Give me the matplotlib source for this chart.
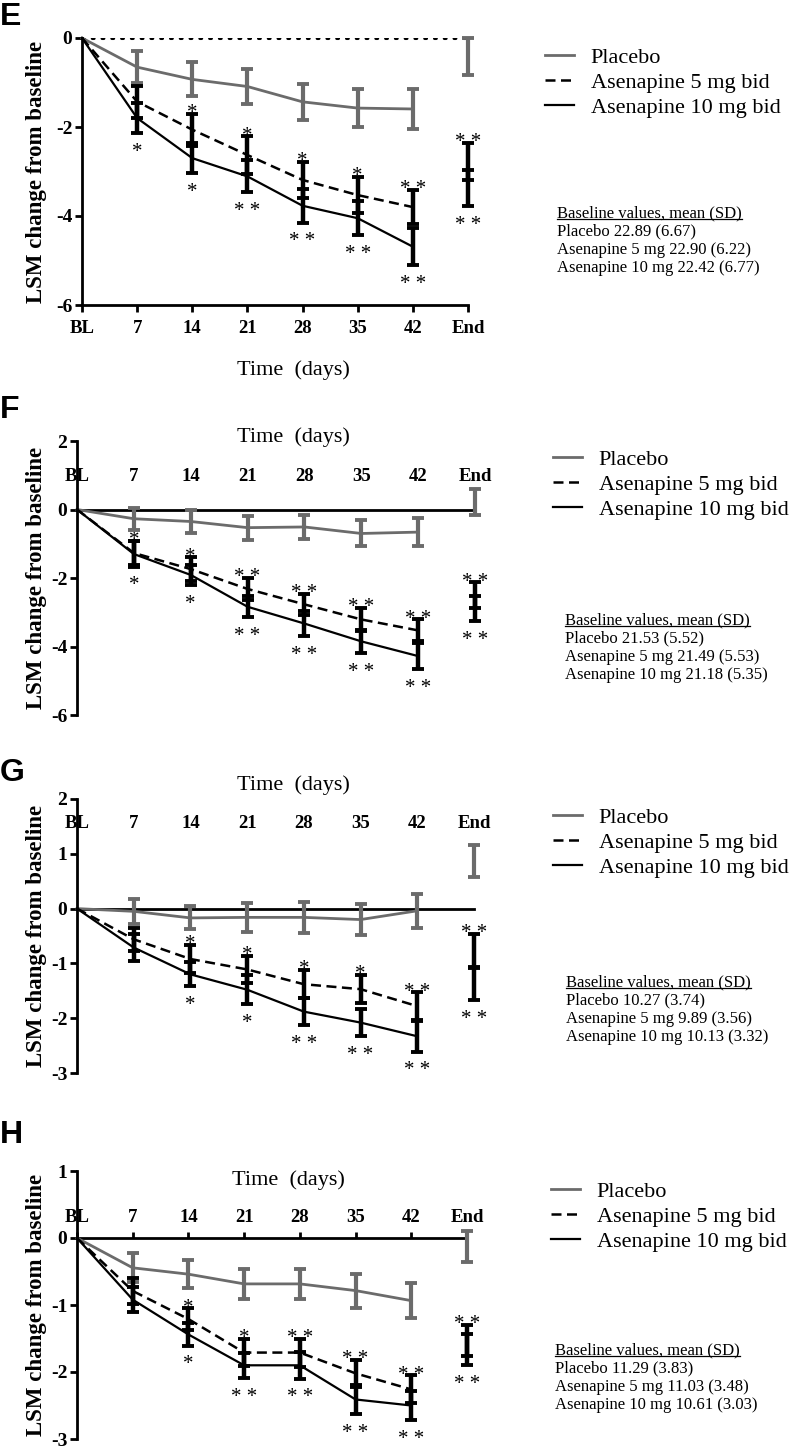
import matplotlib
matplotlib.use("Agg")
import matplotlib.pyplot as plt
from matplotlib.lines import Line2D
import numpy as np

plt.rcParams["font.family"] = ["Liberation Serif", "DejaVu Serif"]
plt.rcParams["axes.unicode_minus"] = False

FIG_W, FIG_H = 793, 1447
GRAY = "#6b6b6b"
BLACK = "#000000"
SERIF = "Liberation Serif"

TIMEPOINTS = ["BL", "7", "14", "21", "28", "35", "42", "End"]
LEGEND_LABELS = ["Placebo", "Asenapine 5 mg bid", "Asenapine 10 mg bid"]
BASELINE_TITLE = "Baseline values, mean (SD)"

# panel E
E_PLACEBO_MEAN = [0, -0.655, -0.93, -1.09, -1.435, -1.575, -1.595, -0.42]
E_PLACEBO_SE = [0, 0.355, 0.38, 0.39, 0.405, 0.425, 0.445, 0.42]
E_ASE5_MEAN = [0, -1.43, -2.06, -2.63, -3.19, -3.53, -3.80, -2.77]
E_ASE5_SE = [0, 0.36, 0.36, 0.42, 0.40, 0.40, 0.39, 0.42]
E_ASE10_MEAN = [0, -1.80, -2.70, -3.11, -3.77, -4.05, -4.69, -3.37]
E_ASE10_SE = [0, 0.34, 0.34, 0.36, 0.38, 0.38, 0.41, 0.41]
E_STARS_TOP = ["", "", "*", "*", "*", "*", "* *", "* *"]
E_STARS_BOTTOM = ["", "*", "*", "* *", "* *", "* *", "* *", "* *"]
E_YTICKS = [0, -2, -4, -6]
E_BASELINE = ["Placebo 22.89 (6.67)", "Asenapine 5 mg 22.90 (6.22)",
              "Asenapine 10 mg 22.42 (6.77)"]

# panel F
F_PLACEBO_MEAN = [0, -0.27, -0.35, -0.53, -0.51, -0.70, -0.66, 0.23]
F_PLACEBO_SE = [0, 0.32, 0.33, 0.35, 0.36, 0.38, 0.41, 0.38]
F_ASE5_MEAN = [0, -1.27, -1.74, -2.32, -2.77, -3.21, -3.53, -2.51]
F_ASE5_SE = [0, 0.36, 0.34, 0.33, 0.30, 0.34, 0.32, 0.38]
F_ASE10_MEAN = [0, -1.30, -1.91, -2.84, -3.33, -3.85, -4.28, -2.90]
F_ASE10_SE = [0, 0.37, 0.30, 0.30, 0.37, 0.34, 0.38, 0.36]
F_STARS_TOP = ["", "*", "*", "* *", "* *", "* *", "* *", "* *"]
F_STARS_BOTTOM = ["", "*", "*", "* *", "* *", "* *", "* *", "* *"]
F_YTICKS = [2, 0, -2, -4, -6]
F_BASELINE = ["Placebo 21.53 (5.52)", "Asenapine 5 mg 21.49 (5.53)",
              "Asenapine 10 mg 21.18 (5.35)"]

# panel G
G_PLACEBO_MEAN = [0, -0.05, -0.17, -0.16, -0.16, -0.20, -0.04, 0.87]
G_PLACEBO_SE = [0, 0.23, 0.21, 0.26, 0.28, 0.29, 0.31, 0.29]
G_ASE5_MEAN = [0, -0.56, -0.92, -1.11, -1.38, -1.47, -1.78, -0.77]
G_ASE5_SE = [0, 0.21, 0.25, 0.25, 0.26, 0.26, 0.25, 0.31]
G_ASE10_MEAN = [0, -0.71, -1.20, -1.48, -1.88, -2.08, -2.33, -1.37]
G_ASE10_SE = [0, 0.24, 0.22, 0.26, 0.25, 0.25, 0.28, 0.30]
G_STARS_TOP = ["", "", "*", "*", "*", "*", "* *", "* *"]
G_STARS_BOTTOM = ["", "", "*", "*", "* *", "* *", "* *", "* *"]
G_YTICKS = [2, 1, 0, -1, -2, -3]
G_BASELINE = ["Placebo 10.27 (3.74)", "Asenapine 5 mg 9.89 (3.56)",
              "Asenapine 10 mg 10.13 (3.32)"]

# panel H
H_PLACEBO_MEAN = [0, -0.445, -0.54, -0.685, -0.685, -0.785, -0.935, -0.125]
H_PLACEBO_SE = [0, 0.215, 0.205, 0.225, 0.225, 0.255, 0.265, 0.235]
H_ASE5_MEAN = [0, -0.79, -1.21, -1.71, -1.71, -2.02, -2.26, -1.53]
H_ASE5_SE = [0, 0.20, 0.16, 0.20, 0.21, 0.20, 0.21, 0.23]
H_ASE10_MEAN = [0, -0.92, -1.44, -1.90, -1.90, -2.41, -2.50, -1.67]
H_ASE10_SE = [0, 0.19, 0.17, 0.19, 0.20, 0.22, 0.22, 0.23]
H_STARS_TOP = ["", "", "*", "*", "* *", "* *", "* *", "* *"]
H_STARS_BOTTOM = ["", "", "*", "* *", "* *", "* *", "* *", "* *"]
H_YTICKS = [1, 0, -1, -2, -3]
H_BASELINE = ["Placebo 11.29 (3.83)", "Asenapine 5 mg 11.03 (3.48)",
              "Asenapine 10 mg 10.61 (3.03)"]

# layout in pixels: axes (left, x of End, top, bottom), labels and text blocks
PANELS = [
    dict(letter="E", letter_y=17, box=(82, 468, 38, 305), ylim=(-6, 0),
         yticks=E_YTICKS, axis="bottom", tick_pad=6, time_xy=(293, 370),
         legend_xy=(545, 47), base_xy=(557, 213),
         data=(E_PLACEBO_MEAN, E_PLACEBO_SE, E_ASE5_MEAN, E_ASE5_SE, E_ASE10_MEAN, E_ASE10_SE),
         stars=(E_STARS_TOP, E_STARS_BOTTOM), baseline=E_BASELINE),
    dict(letter="F", letter_y=410, box=(77, 475, 441, 715), ylim=(-6, 2),
         yticks=F_YTICKS, axis="zero", tick_pad=18, tick_len=0, time_xy=(293, 437),
         legend_xy=(553, 449), base_xy=(565, 620),
         data=(F_PLACEBO_MEAN, F_PLACEBO_SE, F_ASE5_MEAN, F_ASE5_SE, F_ASE10_MEAN, F_ASE10_SE),
         stars=(F_STARS_TOP, F_STARS_BOTTOM), baseline=F_BASELINE),
    dict(letter="G", letter_y=773, box=(77, 474, 799, 1073), ylim=(-3, 2),
         yticks=G_YTICKS, axis="zero", tick_pad=55, tick_len=0, time_xy=(293, 785),
         legend_xy=(553, 807), base_xy=(566, 982),
         data=(G_PLACEBO_MEAN, G_PLACEBO_SE, G_ASE5_MEAN, G_ASE5_SE, G_ASE10_MEAN, G_ASE10_SE),
         stars=(G_STARS_TOP, G_STARS_BOTTOM), baseline=G_BASELINE),
    dict(letter="H", letter_y=1135, box=(77, 467, 1171, 1439), ylim=(-3, 1),
         yticks=H_YTICKS, axis="zero", tick_pad=5, tick_len=4, time_xy=(288, 1180),
         legend_xy=(551, 1181), base_xy=(555, 1350),
         data=(H_PLACEBO_MEAN, H_PLACEBO_SE, H_ASE5_MEAN, H_ASE5_SE, H_ASE10_MEAN, H_ASE10_SE),
         stars=(H_STARS_TOP, H_STARS_BOTTOM), baseline=H_BASELINE),
]


def fx(px):
    return px / FIG_W


def fy(py):
    return 1 - py / FIG_H


def errorbars(ax, x, mean, se, color, lw, capsize, capthick):
    cont = ax.errorbar(x, mean, yerr=se, fmt="none", ecolor=color, elinewidth=lw,
                       capsize=capsize, capthick=capthick, zorder=4)
    for art in cont.get_children():
        art.set_clip_on(False)


def draw_panel(fig, p):
    left, x_end, top, bottom = p["box"]
    ax = fig.add_axes([fx(left), fy(bottom), (x_end - left) / FIG_W, (bottom - top) / FIG_H])
    x = np.arange(len(TIMEPOINTS))
    pm, ps, m5, s5, m10, s10 = [np.array(v) for v in p["data"]]

    lines = []
    lines += ax.plot(x[:-1], pm[:-1], color=GRAY, lw=2, label=LEGEND_LABELS[0], clip_on=False)
    lines += ax.plot(x[:-1], m5[:-1], color=BLACK, lw=1.8, ls=(0, (4, 2.2)),
                     label=LEGEND_LABELS[1], clip_on=False)
    lines += ax.plot(x[:-1], m10[:-1], color=BLACK, lw=1.6, label=LEGEND_LABELS[2], clip_on=False)

    errorbars(ax, x[1:], pm[1:], ps[1:], GRAY, 3, 4.5, 2.8)
    errorbars(ax, x[1:], m5[1:], s5[1:], BLACK, 3.2, 4, 2.8)
    errorbars(ax, x[1:], m10[1:], s10[1:], BLACK, 3.2, 4, 2.8)

    upper = np.maximum(m5 + s5, m10 + s10)
    lower = np.minimum(m5 - s5, m10 - s10)
    top_stars, bottom_stars = p["stars"]
    for i in x:
        if top_stars[i]:
            ax.annotate(top_stars[i], (x[i], upper[i]), xytext=(0, -3), textcoords="offset points",
                        ha="center", va="baseline", fontsize=15, family=SERIF,
                        annotation_clip=False)
        if bottom_stars[i]:
            ax.annotate(bottom_stars[i], (x[i], lower[i]), xytext=(0, -17), textcoords="offset points",
                        ha="center", va="baseline", fontsize=15, family=SERIF,
                        annotation_clip=False)

    ax.set_xlim(0, len(TIMEPOINTS) - 1)
    ax.set_ylim(*p["ylim"])
    ax.set_yticks(p["yticks"])
    ax.set_yticklabels([str(v) for v in p["yticks"]], fontsize=14, fontweight="bold", family=SERIF)
    ax.tick_params(axis="y", length=5, width=2, pad=2)
    ax.spines["right"].set_visible(False)
    ax.spines["left"].set_linewidth(2)
    ax.set_xticks(x)

    if p["axis"] == "bottom":
        ax.spines["top"].set_visible(False)
        ax.spines["bottom"].set_linewidth(2)
        ax.spines["bottom"].set_bounds(0, len(TIMEPOINTS) - 1)
        dots = ax.hlines(0, 0, len(TIMEPOINTS) - 1, colors=BLACK, linestyles=(0, (0.6, 2.6)),
                         lw=2.2, zorder=1)
        dots.set_capstyle("round")
        ax.set_xticklabels(TIMEPOINTS, fontsize=13.5, fontweight="bold", family=SERIF)
        ax.tick_params(axis="x", length=5, width=2, pad=p["tick_pad"])
    else:
        ax.spines["bottom"].set_visible(False)
        ax.spines["top"].set_position(("data", 0))
        ax.spines["top"].set_linewidth(2)
        ax.spines["top"].set_bounds(0, len(TIMEPOINTS) - 1)
        ax.spines["top"].set_zorder(1)
        ax.xaxis.set_ticks_position("top")
        ax.set_xticklabels(TIMEPOINTS, fontsize=13.5, fontweight="bold", family=SERIF)
        ax.tick_params(axis="x", length=p["tick_len"], width=2, pad=p["tick_pad"])
    ax.patch.set_visible(False)

    fig.text(fx(p["time_xy"][0]), fy(p["time_xy"][1]), "Time  (days)", fontsize=16,
             family=SERIF, ha="center", va="center")
    fig.text(fx(37), fy((top + bottom) / 2), "LSM change from baseline", fontsize=16.5,
             fontweight="bold", family=SERIF, rotation=90, ha="center", va="center")
    fig.text(0.0, fy(p["letter_y"]), p["letter"], fontsize=23, fontweight="bold",
             family="Liberation Sans", ha="left", va="center")

    fig.legend(handles=lines, loc="upper left",
               bbox_to_anchor=(fx(p["legend_xy"][0]), fy(p["legend_xy"][1])),
               frameon=False, prop={"family": SERIF, "size": 16}, borderpad=0,
               borderaxespad=0, handlelength=1.3, handletextpad=0.75, labelspacing=0.2)

    bx, by = p["base_xy"]
    header = fig.text(fx(bx), fy(by), BASELINE_TITLE, fontsize=12, family=SERIF,
                      ha="left", va="center")
    fig.text(fx(bx), fy(by + 10), "\n".join(p["baseline"]), fontsize=12, family=SERIF,
             ha="left", va="top", linespacing=1.22)
    return header


fig = plt.figure(figsize=(FIG_W / 100, FIG_H / 100), dpi=100)
headers = [draw_panel(fig, p) for p in PANELS]

fig.canvas.draw()
for h in headers:
    bb = h.get_window_extent()
    fig.add_artist(Line2D([bb.x0, bb.x1], [bb.y0 + 2, bb.y0 + 2], transform=None,
                          color=BLACK, lw=0.9))

fig.savefig("out.png", dpi=100)
